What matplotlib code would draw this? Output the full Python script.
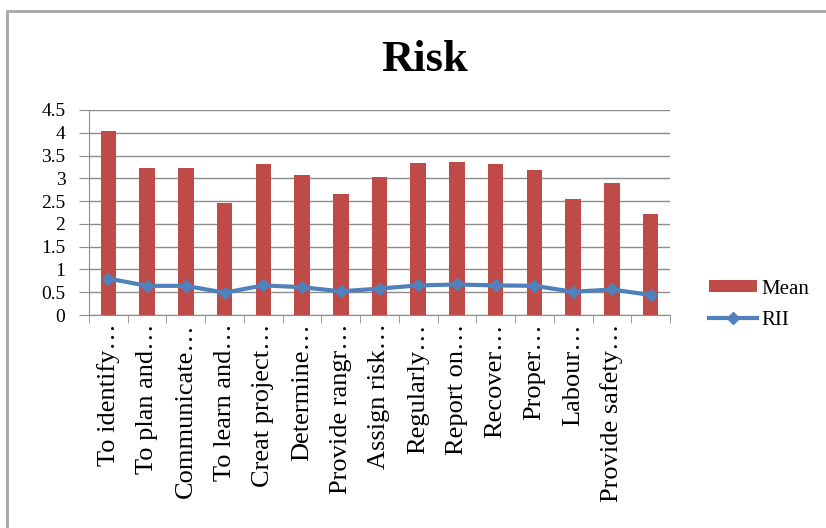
import matplotlib
matplotlib.use("Agg")
import matplotlib.pyplot as plt
from matplotlib.patches import Rectangle
import numpy as np

# survey items (last one has no visible label)
items = ["To identify…", "To plan and…", "Communicate…", "To learn and…",
         "Creat project…", "Determine…", "Provide rangr…", "Assign risk…",
         "Regularly…", "Report on…", "Recover…", "Proper…", "Labour…",
         "Provide safety…", ""]
mean = [4.04, 3.22, 3.22, 2.45, 3.31, 3.07, 2.65, 3.03,
        3.33, 3.36, 3.31, 3.19, 2.54, 2.89, 2.21]
rii = [0.80, 0.64, 0.64, 0.49, 0.65, 0.61, 0.52, 0.58,
       0.65, 0.67, 0.65, 0.64, 0.51, 0.56, 0.44]
yticks = [0, 0.5, 1, 1.5, 2, 2.5, 3, 3.5, 4, 4.5]

plt.rcParams["font.family"] = ["Liberation Serif", "DejaVu Serif"]

fig = plt.figure(figsize=(8.26, 5.28), dpi=100)
fig.patch.set_facecolor("white")

# chart border
fig.patches.append(Rectangle((7 / 826, -0.05), 1.1, 1 - 11 / 528 + 0.05,
                             transform=fig.transFigure, fill=False,
                             edgecolor="#a6a6a6", linewidth=2))

ax = fig.add_axes([89 / 826, 1 - 315 / 528, 581 / 826, 205 / 528])
x = np.arange(len(items))

bars = ax.bar(x, mean, width=0.4, color="#be4b48", label="Mean", zorder=3)
line, = ax.plot(x, rii, color="#4f81bd", linewidth=3, marker="D", markersize=6,
                label="RII", zorder=4)

ax.set_xlim(-0.5, len(items) - 0.5)
ax.set_ylim(0, 4.5)
ax.set_yticks(yticks)
ax.set_yticklabels([f"{v:g}" for v in yticks], fontsize=14)
ax.yaxis.grid(True, color="#8c8c8c", linewidth=1)
ax.set_axisbelow(True)

ax.set_xticks(x)
ax.set_xticklabels(items, rotation=90, fontsize=19, va="top", ha="center")
ax.tick_params(axis="x", length=0, pad=6)
ax.set_xticks(np.arange(-0.5, len(items), 1), minor=True)
ax.tick_params(axis="x", which="minor", length=6, color="#8c8c8c", direction="out")
ax.tick_params(axis="y", length=7, color="#8c8c8c", pad=10, direction="out")

for side in ("top", "right"):
    ax.spines[side].set_visible(False)
for side in ("left", "bottom"):
    ax.spines[side].set_color("#8c8c8c")

ax.set_title("Risk", fontsize=32, fontweight="bold", pad=28, x=(425 - 89) / 581)

ax.legend([bars, line], ["Mean", "RII"], loc="center left",
          bbox_to_anchor=(1.035, 0.05), frameon=False,
          fontsize=15, handlelength=2.3, handleheight=0.45, labelspacing=0.6,
          handletextpad=0.2)

fig.savefig("out.png", dpi=100)
